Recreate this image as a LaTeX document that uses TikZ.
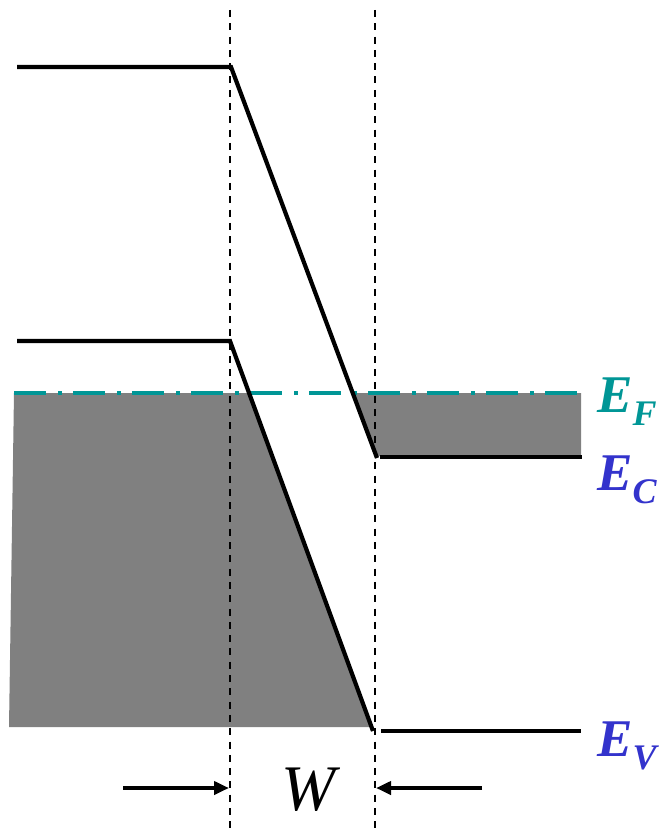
\documentclass[tikz,border=0pt]{standalone}
\usepackage{fontspec}
\setmainfont{Liberation Serif}
\usetikzlibrary{arrows.meta}
\definecolor{fermi}{RGB}{0,150,150}
\definecolor{bandlbl}{RGB}{51,51,204}
\definecolor{fillgray}{RGB}{128,128,128}
\newcommand{\bandlabel}[2]{{\fontsize{53}{53}\selectfont\bfseries\itshape #1\raisebox{-13pt}{\fontsize{36}{36}\selectfont #2}}}
\begin{document}
\begin{tikzpicture}[x=1pt,y=-1pt,
  band/.style={line width=4.2pt,black,line join=miter},
  junction/.style={line width=2.4pt,black,dash pattern=on 7pt off 6.3pt},
  fermiline/.style={line width=4pt,fermi,dash pattern=on 32pt off 12pt on 4pt off 11pt},
  shade/.style={fill=fillgray,draw=none},
  widtharrow/.style={line width=4pt,-{Triangle[length=15pt,width=13pt]}},
  lbl/.style={inner sep=0pt,anchor=base west}]
\useasboundingbox (0,0) rectangle (662,829);
% coordinates
\coordinate (cl0) at (17,67);
\coordinate (cl1) at (231,67);
\coordinate (cr0) at (377,458);
\coordinate (cr1) at (380,457);
\coordinate (cr2) at (582,457);
\coordinate (vl0) at (17,341);
\coordinate (vl1) at (230,341);
\coordinate (vr0) at (373,731);
\coordinate (vr1) at (381,731);
\coordinate (vr2) at (581,731);
\coordinate (jL0) at (230,10);
\coordinate (jL1) at (230,829);
\coordinate (jR0) at (375,10);
\coordinate (jR1) at (375,829);
\coordinate (ef0) at (14,393);
\coordinate (ef1) at (581,393);
\coordinate (aL0) at (123,788);
\coordinate (aL1) at (229,788);
\coordinate (aR0) at (482,788);
\coordinate (aR1) at (376,788);
% shaded (filled) states
\fill[shade] (14,393) -- (249.1,393) -- (371.5,727) -- (9,727) -- cycle;
\fill[shade] (352.7,393) -- (581,393) -- (581,456) -- (376.3,456) -- cycle;
% Fermi level
\draw[fermiline] (ef0) -- (ef1);
% junction edges
\draw[junction] (jL0) -- (jL1);
\draw[junction] (jR0) -- (jR1);
% bands
\draw[band] (cl0) -- (cl1) -- (cr0);
\draw[band] (cr1) -- (cr2);
\draw[band] (vl0) -- (vl1) -- (vr0);
\draw[band] (vr1) -- (vr2);
% width arrows
\draw[widtharrow] (aL0) -- (aL1);
\draw[widtharrow] (aR0) -- (aR1);
% labels
\node[lbl,text=fermi] (lEF) at (597,412) {\bandlabel{E}{F}};
\node[lbl,text=bandlbl] (lEC) at (597,490) {\bandlabel{E}{C}};
\node[lbl,text=bandlbl] (lEV) at (597,756) {\bandlabel{E}{V}};
\node[lbl] (lW) at (281,810) {\fontsize{65}{65}\selectfont\itshape W};
\end{tikzpicture}
\end{document}
